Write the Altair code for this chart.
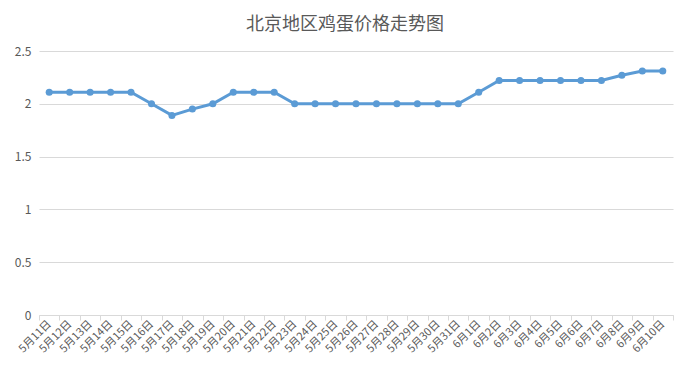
import altair as alt
import pandas as pd

dates = ["5月11日", "5月12日", "5月13日", "5月14日", "5月15日", "5月16日", "5月17日",
         "5月18日", "5月19日", "5月20日", "5月21日", "5月22日", "5月23日", "5月24日",
         "5月25日", "5月26日", "5月27日", "5月28日", "5月29日", "5月30日", "5月31日",
         "6月1日", "6月2日", "6月3日", "6月4日", "6月5日", "6月6日", "6月7日",
         "6月8日", "6月9日", "6月10日"]
prices = [2.11, 2.11, 2.11, 2.11, 2.11, 2.0, 1.89,
          1.95, 2.0, 2.11, 2.11, 2.11, 2.0, 2.0,
          2.0, 2.0, 2.0, 2.0, 2.0, 2.0, 2.0,
          2.11, 2.22, 2.22, 2.22, 2.22, 2.22, 2.22,
          2.27, 2.31, 2.31]
y_ticks = [0, 0.5, 1, 1.5, 2, 2.5]

df = pd.DataFrame({"date": dates, "price": prices})

font = "Noto Sans CJK SC"
grey = "#595959"

x = alt.X("date:N", sort=dates, bandPosition=0.5,
          scale=alt.Scale(type="band", paddingInner=0, paddingOuter=0),
          axis=alt.Axis(title=None, labelAngle=-45, labelAlign="right", labelBaseline="middle",
                        labelFont=font, labelFontSize=11, labelColor=grey, labelPadding=2,
                        tickBand="extent", tickColor="#d9d9d9", tickSize=5,
                        domainColor="#d9d9d9", grid=False, labelOverlap=False))
y = alt.Y("price:Q", scale=alt.Scale(domain=[0, 2.5], nice=False, zero=True),
          axis=alt.Axis(title=None, values=y_ticks, format=".1~f", labelFont=font,
                        labelFontSize=12, labelColor=grey, domain=False, ticks=False,
                        gridColor="#d9d9d9", labelPadding=8))

line = alt.Chart(df).mark_line(color="#5b9bd5", strokeWidth=3).encode(x=x, y=y)
pts = alt.Chart(df).mark_point(filled=True, color="#5b9bd5", size=50, opacity=1).encode(x=x, y=y)

chart = (line + pts).properties(
    width=634, height=264,
    title=alt.TitleParams("北京地区鸡蛋价格走势图", font=font, fontSize=18, fontWeight="normal",
                          color=grey, anchor="middle", dx=-11, offset=11),
    autosize=alt.AutoSizeParams(type="none"),
    padding={"left": 31, "top": 43, "right": 8, "bottom": 52},
    background="white",
).configure_view(
    strokeWidth=0, stroke="transparent"
).configure_axisY(
    domain=False, ticks=False
).configure_axisX(
    grid=False
)

chart.save("out.html", embed_options={"renderer": "svg", "actions": False})
